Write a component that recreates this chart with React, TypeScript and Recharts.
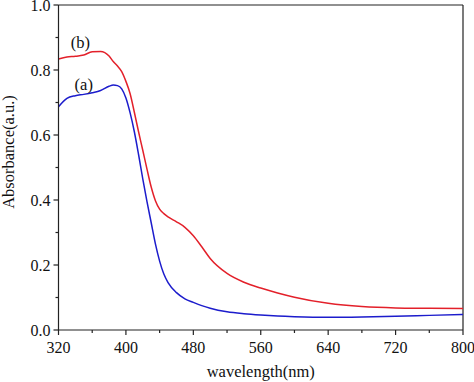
import React from 'react';
import { LineChart, Line, XAxis, YAxis, ReferenceLine, ReferenceDot, Label } from 'recharts';

// wavelength grid (nm) shared by both spectra
const wavelengths = [
  320, 330, 340, 350, 360, 370, 380, 385, 390, 395, 400, 405, 410, 415, 420, 425, 430, 435,
  440, 445, 450, 460, 470, 480, 490, 500, 520, 540, 560, 580, 600, 640, 680, 720, 760, 800,
];

// (a) blue curve
const absorbanceA = [
  0.687, 0.713, 0.721, 0.725, 0.73, 0.737, 0.75, 0.754, 0.752, 0.742, 0.714, 0.668, 0.61, 0.54,
  0.465, 0.395, 0.33, 0.265, 0.212, 0.172, 0.146, 0.115, 0.096, 0.085, 0.075, 0.067, 0.056, 0.05,
  0.046, 0.043, 0.041, 0.039, 0.04, 0.042, 0.045, 0.048,
];

// (b) red curve
const absorbanceB = [
  0.834, 0.84, 0.842, 0.846, 0.856, 0.857, 0.843, 0.826, 0.812, 0.795, 0.765, 0.727, 0.67, 0.61,
  0.553, 0.495, 0.44, 0.398, 0.372, 0.358, 0.348, 0.333, 0.316, 0.29, 0.256, 0.22, 0.174,
  0.147, 0.129, 0.114, 0.101, 0.082, 0.072, 0.068, 0.067, 0.066,
];

const xTicks = [320, 360, 400, 440, 480, 520, 560, 600, 640, 680, 720, 760, 800];
const yTicks = [0, 0.1, 0.2, 0.3, 0.4, 0.5, 0.6, 0.7, 0.8, 0.9, 1.0];

const curveLabels = [
  { x: 346, y: 0.885, text: '(b)' },
  { x: 350, y: 0.758, text: '(a)' },
];

const data = wavelengths.map((w, i) => ({ wavelength: w, a: absorbanceA[i], b: absorbanceB[i] }));

const FONT = '"Liberation Serif", "Times New Roman", serif';
const AXIS = '#222';
const TICK_FONT = 16;

const XTick = (props: any) => {
  const { x, y, payload } = props;
  const major = (payload.value - 320) % 80 === 0;
  return (
    <g>
      <line x1={x} x2={x} y1={y} y2={y + (major ? 5 : 3)} stroke={AXIS} strokeWidth={1.2} />
      {major && (
        <text x={x} y={y + 23} textAnchor="middle" fontFamily={FONT} fontSize={TICK_FONT} fill="#111">
          {payload.value}
        </text>
      )}
    </g>
  );
};

const YTick = (props: any) => {
  const { x, y, payload } = props;
  const major = Math.round(payload.value * 10) % 2 === 0;
  return (
    <g>
      <line x1={x} x2={x - (major ? 5 : 3)} y1={y} y2={y} stroke={AXIS} strokeWidth={1.2} />
      {major && (
        <text x={x - 8} y={y} dy="0.35em" textAnchor="end" fontFamily={FONT} fontSize={TICK_FONT} fill="#111">
          {payload.value.toFixed(1)}
        </text>
      )}
    </g>
  );
};

const XTitle = (props: any) => {
  const { viewBox } = props;
  return (
    <text x={viewBox.x + viewBox.width / 2} y={377} textAnchor="middle" fontFamily={FONT} fontSize={16.5} fill="#111">
      wavelength(nm)
    </text>
  );
};

const YTitle = () => {
  const cx = 14;
  const cy = 152;
  return (
    <text
      x={cx}
      y={cy}
      transform={`rotate(-90, ${cx}, ${cy})`}
      textAnchor="middle"
      fontFamily={FONT}
      fontSize={16.5}
      fill="#111"
    >
      Absorbance(a.u.)
    </text>
  );
};

export default function App() {
  return (
    <div style={{ position: 'absolute', left: 0, top: 0, background: '#fff' }}>
      <LineChart width={474} height={382} data={data} margin={{ top: 5, right: 11, bottom: 0, left: 0 }}>
        <XAxis
          dataKey="wavelength"
          type="number"
          domain={[320, 800]}
          ticks={xTicks}
          interval={0}
          tickSize={0}
          tickMargin={0}
          tickLine={false}
          tick={XTick}
          height={52}
          stroke={AXIS}
          strokeWidth={1.2}
        >
          <Label content={XTitle} />
        </XAxis>
        <YAxis
          type="number"
          domain={[0, 1]}
          ticks={yTicks}
          interval={0}
          tickSize={0}
          tickMargin={0}
          tickLine={false}
          tick={YTick}
          width={58.5}
          stroke={AXIS}
          strokeWidth={1.2}
        >
          <Label content={YTitle} />
        </YAxis>
        <ReferenceLine y={1} stroke={AXIS} strokeWidth={1.2} />
        <ReferenceLine x={800} stroke={AXIS} strokeWidth={1.2} />
        <Line type="monotone" dataKey="b" stroke="#e3202a" strokeWidth={1.5} dot={false} isAnimationActive={false} />
        <Line type="monotone" dataKey="a" stroke="#1c1ccc" strokeWidth={1.5} dot={false} isAnimationActive={false} />
        {curveLabels.map((l) => (
          <ReferenceDot
            key={l.text}
            x={l.x}
            y={l.y}
            r={0}
            stroke="none"
            fill="none"
            label={{ value: l.text, position: 'center', fontFamily: FONT, fontSize: 16.5, fill: '#111' }}
          />
        ))}
      </LineChart>
    </div>
  );
}
